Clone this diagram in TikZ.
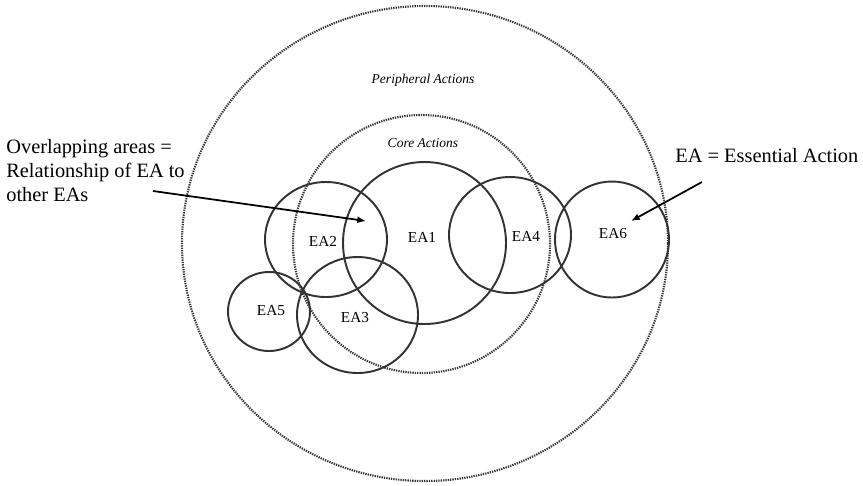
\documentclass[tikz,border=0pt]{standalone}
\usepackage{fontspec}
\setmainfont{Liberation Serif}
\usetikzlibrary{arrows.meta,shapes.geometric}
\definecolor{Ink}{HTML}{333333}
\newcommand{\pxl}{0.02cm}
\tikzset{
  eacirc/.style={ellipse,draw=Ink,line width=1.1pt,inner sep=0pt},
  ring/.style={ellipse,draw=Ink,line width=1.2pt,dash pattern=on 0.75pt off 0.6pt,inner sep=0pt},
  ealab/.style={font=\fontsize{8.7}{10}\selectfont,inner sep=0pt},
  ringlab/.style={font=\fontsize{7.7}{9}\selectfont\itshape,inner sep=0pt,anchor=base},
  note/.style={font=\fontsize{11.6}{13.6}\selectfont,inner sep=0pt},
  arr/.style={-{Latex[length=5pt,width=4pt]},line width=1pt,draw=black}
}

\begin{document}
\begin{tikzpicture}[x=0.02cm,y=-0.02cm]
  \useasboundingbox (0,0) rectangle (863,485);
  % dotted rings
  \node[ring,minimum width=486*\pxl,minimum height=475*\pxl] (periph) at (425,243.5) {};
  \node[ring,minimum width=257*\pxl,minimum height=258*\pxl] (core) at (421.5,244) {};
  \node[ringlab] (periphlab) at (423,83) {Peripheral Actions};
  \node[ringlab] (corelab) at (423,147) {Core Actions};
  % essential actions
  \node[eacirc,minimum width=163*\pxl,minimum height=162*\pxl] (ea1) at (424.5,243) {};
  \node[eacirc,minimum width=122*\pxl,minimum height=115*\pxl] (ea2) at (326,239.5) {};
  \node[eacirc,minimum width=121*\pxl,minimum height=116*\pxl] (ea3) at (357.5,315) {};
  \node[eacirc,minimum width=122*\pxl,minimum height=116*\pxl] (ea4) at (510,235) {};
  \node[eacirc,minimum width=82*\pxl,minimum height=79*\pxl] (ea5) at (269,311.5) {};
  \node[eacirc,minimum width=114*\pxl,minimum height=116*\pxl] (ea6) at (612,239.5) {};
  \node[ealab] (ea1lab) at (422,237) {EA1};
  \node[ealab] (ea2lab) at (323,241.5) {EA2};
  \node[ealab] (ea3lab) at (355,318) {EA3};
  \node[ealab] (ea4lab) at (526,236) {EA4};
  \node[ealab] (ea5lab) at (271,311) {EA5};
  \node[ealab] (ea6lab) at (613,234) {EA6};
  % notes
  \node[note,align=left,anchor=north west] (overlap) at (6,139) {Overlapping areas =\\Relationship of EA to\\other EAs};
  \node[note,anchor=base west] (essential) at (675,162) {EA = Essential Action};
  \coordinate (ovtail) at (153,191);
  \coordinate (ovhead) at (366,221);
  \coordinate (estail) at (702,182);
  \coordinate (eshead) at (631,221);
  \draw[arr] (ovtail) -- (ovhead);
  \draw[arr] (estail) -- (eshead);
\end{tikzpicture}
\end{document}
